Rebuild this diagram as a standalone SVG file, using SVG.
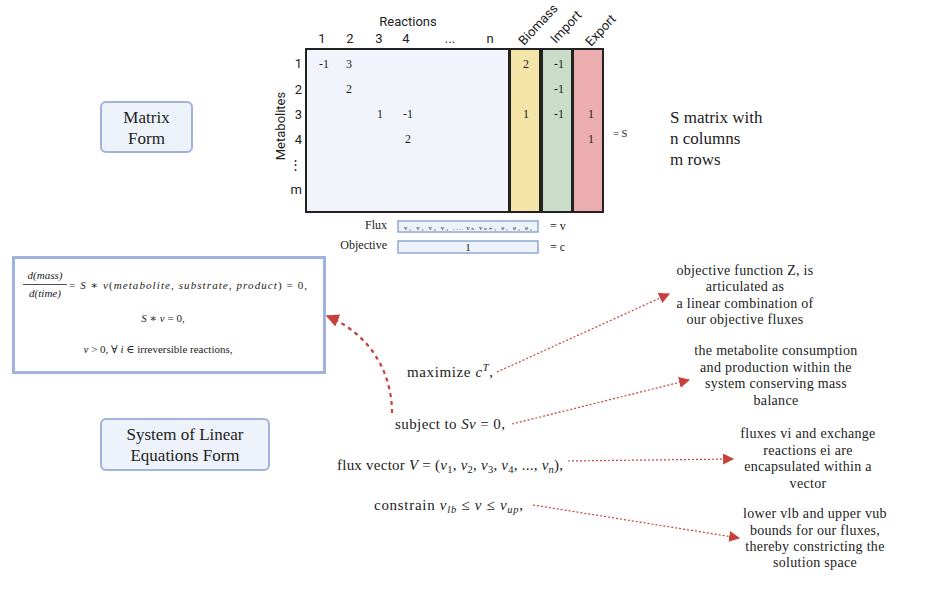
<svg xmlns="http://www.w3.org/2000/svg" width="926" height="589" viewBox="0 0 926 589">
<style>
.sans{font-family:Roboto,"Liberation Sans",sans-serif;fill:#222;}
.serif{font-family:"Liberation Serif","DejaVu Serif",serif;fill:#222;}
.hdr{font-size:13px;}
.val{font-size:12px;}
.mid{text-anchor:middle;}
.end{text-anchor:end;}
.it{font-style:italic;}
.node{fill:#eef3fb;stroke:#9fb3de;stroke-width:2;}
.lbl{font-size:17px;}
.ann{font-size:14px;text-anchor:middle;letter-spacing:0.3px;}
.math{font-size:15px;}
.dot{fill:none;stroke:#c8403a;stroke-width:1.2;stroke-dasharray:2 2;}
.curve{fill:none;stroke:#c8403a;stroke-width:2.2;stroke-dasharray:4 4;}
.col{stroke:#222;stroke-width:2;}
.vbox{fill:#eef3fb;stroke:#8fa8d8;stroke-width:1.5;}
</style>
<defs>
<marker id="ah" viewBox="0 0 10 10" refX="9" refY="5" markerWidth="11" markerHeight="11" markerUnits="userSpaceOnUse" orient="auto">
<path d="M0,0 L10,5 L0,10 z" fill="#c8403a"/>
</marker>
<marker id="ahb" viewBox="0 0 10 10" refX="9" refY="5" markerWidth="13" markerHeight="13" markerUnits="userSpaceOnUse" orient="auto">
<path d="M0,0 L10,5 L0,10 z" fill="#c8403a"/>
</marker>
</defs>
<rect width="926" height="589" fill="#ffffff"/>

<g id="matrix">
<rect x="306" y="49" width="203" height="163" fill="#f1f5fb" class="col"/>
<rect x="510" y="49" width="30" height="163" fill="#f5e4a8" class="col"/>
<rect x="542" y="49" width="30" height="163" fill="#c9ddc8" class="col"/>
<rect x="573" y="49" width="30" height="163" fill="#ebadad" class="col"/>
<text class="sans hdr mid" x="408" y="26">Reactions</text>
<text class="sans hdr mid" x="322" y="43">1</text>
<text class="sans hdr mid" x="350" y="43">2</text>
<text class="sans hdr mid" x="379" y="43">3</text>
<text class="sans hdr mid" x="406" y="43">4</text>
<text class="sans hdr mid" x="450" y="43">...</text>
<text class="sans hdr mid" x="490" y="43">n</text>
<text class="sans hdr" transform="translate(524,46) rotate(-47)">Biomass</text>
<text class="sans hdr" transform="translate(556,44) rotate(-47)">Import</text>
<text class="sans hdr" transform="translate(591,47) rotate(-47)">Export</text>
<text class="sans hdr mid" transform="translate(285,126) rotate(-90)">Metabolites</text>
<text class="sans hdr end" x="302" y="68">1</text>
<text class="sans hdr end" x="302" y="94">2</text>
<text class="sans hdr end" x="302" y="119">3</text>
<text class="sans hdr end" x="302" y="144">4</text>
<text class="sans hdr end" x="302" y="169" fill="#888">⋮</text>
<text class="sans hdr end" x="302" y="194">m</text>
<text class="serif val mid" x="324" y="68">-1</text>
<text class="serif val mid" x="349" y="68">3</text>
<text class="serif val mid" x="349" y="93">2</text>
<text class="serif val mid" x="380" y="118">1</text>
<text class="serif val mid" x="408" y="118">-1</text>
<text class="serif val mid" x="408" y="143">2</text>
<text class="serif val mid" x="526" y="68">2</text>
<text class="serif val mid" x="526" y="118">1</text>
<text class="serif val mid" x="559" y="68">-1</text>
<text class="serif val mid" x="559" y="93">-1</text>
<text class="serif val mid" x="559" y="118">-1</text>
<text class="serif val mid" x="591" y="118">1</text>
<text class="serif val mid" x="591" y="143">1</text>
<text class="serif" font-size="10.5" x="613" y="137">= S</text>
</g>

<g id="s-matrix-note">
<text class="serif" font-size="17" x="670" y="123">S matrix with</text>
<text class="serif" font-size="17" x="670" y="144">n columns</text>
<text class="serif" font-size="17" x="670" y="165">m rows</text>
</g>

<g id="flux-row">
<text class="serif end" font-size="12" x="387" y="229">Flux</text>
<rect class="vbox" x="398" y="221" width="140" height="11"/>
<text class="serif mid" font-size="7" x="468" y="229.5" textLength="128" lengthAdjust="spacing">v₁ v₂ v₃ v₄ ... vₙ vₙ₊₁ e₁ e₂ e₃</text>
<text class="serif" font-size="12" x="550" y="230">= v</text>
</g>
<g id="objective-row">
<text class="serif end" font-size="12" x="387" y="249">Objective</text>
<rect class="vbox" x="398" y="241" width="140" height="12"/>
<text class="serif mid" font-size="11" x="468" y="251">1</text>
<text class="serif" font-size="12" x="550" y="251">= c</text>
</g>

<g id="matrix-form">
<rect class="node" x="101" y="102" width="91" height="50" rx="5"/>
<text class="serif lbl mid" x="146.5" y="123">Matrix</text>
<text class="serif lbl mid" x="146.5" y="144">Form</text>
</g>

<g id="linear-form">
<rect class="node" x="101" y="419" width="168" height="51" rx="5"/>
<text class="serif lbl mid" x="185" y="440">System of Linear</text>
<text class="serif lbl mid" x="185" y="461">Equations Form</text>
</g>

<g id="equations">
<rect x="13.5" y="257.5" width="311" height="115" fill="#ffffff" stroke="#9fb3de" stroke-width="3"/>
<text class="serif it mid" font-size="11" x="45" y="279">d(mass)</text>
<line x1="23" y1="284.5" x2="67" y2="284.5" stroke="#222" stroke-width="0.8"/>
<text class="serif it mid" font-size="11" x="45" y="297">d(time)</text>
<text class="serif" font-size="11" x="69" y="289" textLength="238" lengthAdjust="spacing">= <tspan class="it">S</tspan> ∗ <tspan class="it">v</tspan>(<tspan class="it">metabolite</tspan>, <tspan class="it">substrate</tspan>, <tspan class="it">product</tspan>) = 0,</text>
<text class="serif mid" font-size="11" x="163" y="322"><tspan class="it">S</tspan> ∗ <tspan class="it">v</tspan> = 0,</text>
<text class="serif mid" font-size="11" x="158" y="353"><tspan class="it">v</tspan> &gt; 0, ∀ <tspan class="it">i</tspan> ∈ irreversible reactions,</text>
</g>

<g id="maximize">
<text class="serif math" x="407" y="377" textLength="86" lengthAdjust="spacing">maximize <tspan class="it">c</tspan><tspan class="it" font-size="10.5" dy="-6">T</tspan><tspan dy="6">,</tspan></text>
</g>
<g id="subject-to">
<text class="serif math" x="395" y="429" textLength="110" lengthAdjust="spacing">subject to <tspan class="it">Sv</tspan> = 0,</text>
</g>
<g id="flux-vector">
<text class="serif math" x="337" y="470" textLength="226" lengthAdjust="spacing">flux vector <tspan class="it">V</tspan> = (<tspan class="it">v</tspan><tspan font-size="10.5" dy="3">1</tspan><tspan dy="-3">, </tspan><tspan class="it">v</tspan><tspan font-size="10.5" dy="3">2</tspan><tspan dy="-3">, </tspan><tspan class="it">v</tspan><tspan font-size="10.5" dy="3">3</tspan><tspan dy="-3">, </tspan><tspan class="it">v</tspan><tspan font-size="10.5" dy="3">4</tspan><tspan dy="-3">, ..., </tspan><tspan class="it">v</tspan><tspan class="it" font-size="10.5" dy="3">n</tspan><tspan dy="-3">),</tspan></text>
</g>
<g id="constrain">
<text class="serif math" x="374" y="510" textLength="149" lengthAdjust="spacing">constrain <tspan class="it">v</tspan><tspan class="it" font-size="10.5" dy="3">lb</tspan><tspan dy="-3"> ≤ </tspan><tspan class="it">v</tspan> ≤ <tspan class="it">v</tspan><tspan class="it" font-size="10.5" dy="3">up</tspan><tspan dy="-3">,</tspan></text>
</g>

<g id="note-objective">
<text class="serif ann" x="745" y="275">objective function Z, is</text>
<text class="serif ann" x="745" y="291">articulated as</text>
<text class="serif ann" x="745" y="308">a linear combination of</text>
<text class="serif ann" x="745" y="324">our objective fluxes</text>
</g>
<g id="note-mass">
<text class="serif ann" x="776" y="355">the metabolite consumption</text>
<text class="serif ann" x="776" y="372">and production within the</text>
<text class="serif ann" x="776" y="388">system conserving mass</text>
<text class="serif ann" x="776" y="405">balance</text>
</g>
<g id="note-vector">
<text class="serif ann" x="808" y="438">fluxes vi and exchange</text>
<text class="serif ann" x="808" y="455">reactions ei are</text>
<text class="serif ann" x="808" y="471">encapsulated within a</text>
<text class="serif ann" x="808" y="488">vector</text>
</g>
<g id="note-bounds">
<text class="serif ann" x="815" y="518">lower vlb and upper vub</text>
<text class="serif ann" x="815" y="535">bounds for our fluxes,</text>
<text class="serif ann" x="815" y="551">thereby constricting the</text>
<text class="serif ann" x="815" y="567">solution space</text>
</g>

<g id="connectors">
<path class="curve" d="M392,413 C392,372 370,334 327,316" marker-end="url(#ahb)"/>
<line class="dot" x1="497" y1="372" x2="669" y2="294" marker-end="url(#ah)"/>
<line class="dot" x1="512" y1="424" x2="689" y2="380" marker-end="url(#ah)"/>
<line class="dot" x1="568" y1="461" x2="733" y2="459" marker-end="url(#ah)"/>
<line class="dot" x1="533" y1="505" x2="739" y2="538" marker-end="url(#ah)"/>
</g>
</svg>
